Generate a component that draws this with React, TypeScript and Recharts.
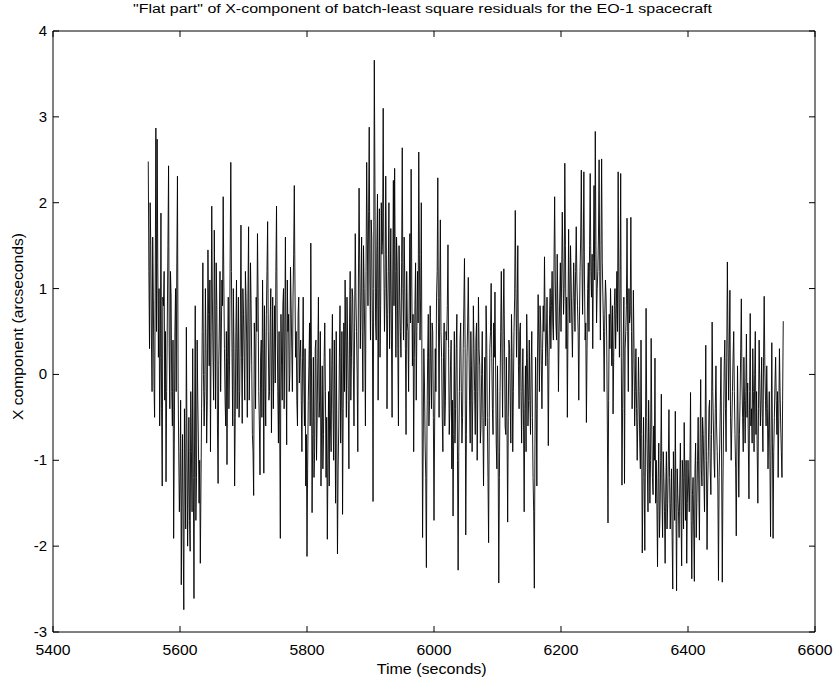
import React from 'react';
import { LineChart, Line, XAxis, YAxis, Label } from 'recharts';

const TITLE = '"Flat part" of X-component of batch-least square residuals for the EO-1 spacecraft';
const X_LABEL = 'Time (seconds)';
const Y_LABEL = 'X component (arcseconds)';

const X_TICKS = [5400, 5600, 5800, 6000, 6200, 6400, 6600];
const Y_TICKS = [-3, -2, -1, 0, 1, 2, 3, 4];

const START_TIME = 5550;

// residuals (arcseconds) at even seconds, 5550 s ... 6550 s
const residualsEven = [
  2.48, 0.3, 1.5, -0.2, 0.9, -0.5, 2.87, 2.74, 0.2, -0.6, 1.88, -1.3, 0.8, -0.3, -1.25, 0.6, 2.43, -0.4, 0.9, -0.6, -1.91, 0.5, -0.2, 2.31, -0.9,
  -1.2, -2.45, -0.7, -2.74, -1.1, 0.55, -2.0, -0.5, -2.06, -0.9, 0.3, -2.61, 0.8, -1.2, -0.3, -1.5, -2.2, -0.4, 1.3, -0.6, 1.0, -0.8, 1.45, 0.1, -0.9,
  1.96, 0.2, 1.68, -0.4, 0.8, -1.27, 0.6, -0.2, 1.1, 2.07, 0.3, -0.6, -1.05, 0.9, 0.1, 2.47, 0.2, 1.0, -1.3, 0.5, -0.4, 0.9, -0.2, 1.74, -0.57,
  0.7, -0.3, 0.9, -0.5, 1.72, 0.2, 0.8, -0.7, -1.41, 0.3, 0.9, 1.64, -0.2, -1.17, 0.4, 1.1, -1.15, 0.0, 0.7, 1.78, -0.3, 0.6, -0.68, 0.9, 0.2,
  -0.1, 1.96, -0.2, 0.5, -1.91, 0.1, 0.8, -0.4, 1.6, -0.82, 0.5, -0.2, 1.25, 0.3, 0.9, 2.2, 0.2, -0.3, 0.7, -0.1, 0.4, -0.9, 0.9, -0.6, -1.3,
  -2.12, -0.3, 0.6, 1.53, -1.61, 0.2, -0.9, 0.4, -0.5, 0.9, -0.3, -1.3, 0.1, -0.7, 0.6, -1.2, -1.92, -0.2, 0.3, -0.9, 0.7, -1.0, -0.3, 0.5, -2.09,
  -0.6, 0.8, -0.3, -1.63, 0.6, 1.1, -0.5, 0.4, -1.1, 1.2, 0.2, 0.9, -0.6, 1.64, 0.5, -0.9, 2.17, 0.3, 1.6, -0.2, 1.0, -0.6, 2.47, 0.8, 2.88,
  0.4, 1.6, -1.48, 3.66, 0.6, 1.5, -0.3, 1.93, 0.8, 1.4, 3.1, 0.5, 2.31, -0.4, 1.2, 0.3, 1.7, -0.5, 2.26, 2.4, 0.2, 1.3, -0.6, 0.9, 0.2,
  2.64, 0.4, 1.1, -0.7, 0.6, -0.2, 1.64, 2.39, 0.1, -0.9, 0.8, -0.3, 1.2, 2.59, 0.4, 2.0, -1.9, 0.3, -0.8, -2.25, 0.2, -0.6, 0.8, -0.4, 0.5,
  -1.7, 0.3, 0.9, 2.29, -0.5, 1.8, 0.2, -0.9, 0.6, -0.3, 0.4, 1.51, -0.7, 0.1, -1.1, -1.65, 0.5, -0.4, 0.7, -2.28, -0.2, 0.6, -0.8, 0.3, 1.35,
  -1.87, 0.2, 1.13, -0.3, 0.5, -0.9, 0.8, -0.2, 0.4, -1.0, 0.9, 0.1, -0.6, 0.5, -1.3, 0.2, 0.8, -0.5, -1.96, 0.3, 1.06, -0.4, 0.6, 0.96, -0.8,
  0.1, -2.43, -0.2, 1.2, -0.5, 1.23, -0.6, 0.2, -1.72, 0.4, -0.3, 0.7, -0.9, 0.5, 1.91, 0.2, 1.5, -0.4, 0.6, -0.8, 0.3, -1.6, 0.1, 0.7, -0.6,
  0.4, -0.7, 0.5, -1.2, -2.49, 0.2, -1.3, 0.93, -0.2, 0.6, -0.4, 0.8, 1.37, 0.1, 0.9, -0.83, 0.7, 0.3, 1.2, 0.4, 2.07, 0.6, 1.4, -0.2, 0.9,
  0.5, 1.89, 0.7, 2.46, 0.3, -0.5, 1.69, 0.6, 1.1, 0.2, 1.3, 0.5, 1.72, 0.8, -0.3, 1.2, 2.38, 0.7, 2.36, 0.4, -0.56, 1.0, 0.5, 2.34, 0.9,
  0.3, 2.2, 2.83, 0.6, 1.2, 2.5, 0.4, 2.51, 0.9, -0.2, 1.1, 0.4, -1.73, 0.7, 1.0, 0.1, -0.46, 0.8, 0.3, 1.2, 2.36, 0.2, 2.34, -1.29, 0.4,
  -1.27, 0.5, 1.82, -0.2, 0.6, 1.83, -0.4, 0.98, -0.6, 0.3, -1.0, 0.2, -0.8, 0.4, -2.08, -0.5, -2.05, 0.77, -1.1, -0.3, -1.5, 0.42, -1.2, -0.6, 0.19,
  -1.0, -2.24, -0.8, -1.6, -0.23, -1.9, -1.2, -2.2, -0.9, -1.5, -0.41, -1.8, -1.1, -2.5, -1.3, -0.43, -2.52, -1.4, -1.9, -0.8, -2.23, -1.2, -0.56, -1.7, -2.2,
  -1.0, -1.6, -0.21, -2.38, -1.2, -2.41, -0.8, -1.5, -0.5, -1.93, -0.06, -1.3, -0.7, -1.6, 0.34, -2.04, -0.9, -0.3, -1.4, 0.61, -0.6, -1.2, 0.1, -0.9, -2.4,
  -0.8, 0.2, -2.42, -0.6, 0.4, -0.9, 1.31, -0.3, 0.98, -1.0, -0.2, 0.5, -0.7, -1.88, 0.1, -1.43, -0.3, 0.88, -0.5, 0.2, -0.8, 0.47, -0.1, -1.45, 0.71,
  -0.4, 0.3, -0.9, 0.5, -0.2, -1.5, 0.4, -0.6, 0.2, -0.9, 0.91, -0.3, 0.1, -1.1, -0.2, -1.89, 0.37, -1.91, -0.5, 0.2, -0.7, -1.2, 0.3, -0.6, -1.2, 0.62,
];

// residuals (arcseconds) at odd seconds, 5551 s ... 6549 s
const residualsOdd = [
  1.2, 2.0, 0.4, 1.6, -0.1, 1.1, 0.5, 1.3, 1.0, 0.2, -0.4, 0.9, 1.2, 0.5, -0.2, 1.5, 0.3, 1.2, -0.2, 0.4, -0.8, 1.0, 1.3, -0.1, -1.6,
  -0.3, -1.4, -1.9, -0.4, -1.8, -0.8, -1.3, -1.7, -0.2, -1.6, -1.2, -0.6, -1.7, 0.4, -0.8, -1.0, -1.3, 0.5, 0.0, -0.2, 0.3, -0.3, 0.7, 1.1, 0.5,
  0.9, -0.3, 0.8, 1.3, -0.6, 0.1, 1.2, 0.4, 0.8, 1.1, -0.3, 0.5, 0.2, -0.4, 1.4, 1.2, -0.6, 0.3, -0.5, 1.1, 0.3, -0.5, 0.6, 0.2, 1.0,
  0.2, 1.2, 0.4, 0.9, -0.3, 1.3, 0.1, -0.9, 0.6, -0.4, 0.5, 0.9, -0.6, 0.2, -0.5, 0.3, 0.8, -0.6, 1.2, 0.5, -0.2, 1.0, 0.1, -0.4, 0.8,
  1.2, 0.6, -0.8, -0.6, 0.7, -0.3, 1.0, 0.4, 0.2, 1.1, 0.7, 0.0, 0.8, -0.2, 1.4, 1.1, 0.5, -0.6, 0.9, 0.2, -0.3, 0.2, -0.1, 0.3, -0.7,
  -1.1, 0.1, -0.6, 0.2, -0.7, -1.2, 0.3, -1.0, 0.2, -0.5, 0.5, -0.6, -1.1, 0.2, -0.2, -0.5, -1.0, -1.3, -0.6, 0.1, -0.4, 0.4, -1.5, -0.8, -1.1,
  0.2, -0.8, 0.5, -0.4, -0.2, 0.4, 0.9, -0.3, 0.6, -0.3, 1.0, 0.1, 0.6, 0.9, 0.0, 1.1, 1.3, 0.9, 0.5, 1.5, 0.4, 1.2, 1.6, 1.9, 1.1,
  1.8, 0.6, 1.0, 2.2, 0.4, 2.1, 1.0, 0.2, 2.0, 1.6, 1.3, 1.0, 1.4, 0.7, 2.0, 0.9, 0.4, 1.1, 0.8, 1.2, 1.6, 0.3, 1.5, 0.5, 1.3,
  1.0, 1.6, 0.3, 1.2, 0.5, 0.9, 0.6, 1.1, 0.7, 0.2, 1.3, 0.5, 0.6, 1.4, 0.9, 0.1, -0.8, -0.1, -1.2, -0.6, 0.7, -0.3, 0.1, 0.6, -0.5,
  -0.6, -0.2, 1.2, 0.6, 0.9, 0.5, -0.5, 0.2, -0.6, 0.5, 0.8, 0.3, -0.4, 0.4, -0.3, -0.7, -0.8, 0.3, -1.0, -0.9, 0.4, -0.2, -0.5, 0.8, 0.3,
  -0.7, 0.6, 0.4, -0.8, 0.1, -0.3, 0.3, -0.7, 0.6, -0.2, 0.3, -0.8, 0.0, -0.5, -0.4, -0.6, 0.4, -1.2, -0.5, 0.5, 0.2, -0.7, 0.2, 0.1, -1.1,
  -0.9, -1.2, 0.5, 0.3, 0.6, 0.4, -0.7, -0.6, -0.5, 0.3, -0.8, 0.2, -0.2, 0.9, 1.0, 0.8, 0.1, 0.5, -0.2, -0.1, -0.6, -0.4, -0.9, 0.2, -0.3,
  -0.3, 0.1, -0.5, -1.6, -0.8, -0.4, 0.2, 0.4, 0.8, 0.1, 0.3, 0.5, 0.6, 0.4, 0.2, 0.1, 1.0, 0.8, 0.6, 1.3, 1.1, 0.4, 0.8, 0.5, 1.3,
  1.1, 1.3, 1.0, 1.5, 0.9, 0.6, 0.9, 1.5, 0.6, 0.8, 0.9, 1.2, 1.1, 0.5, 0.6, 1.6, 1.3, 1.4, 1.1, 0.6, 0.3, 1.3, 1.5, 1.2, 1.4,
  1.3, 1.1, 1.5, 1.0, 1.6, 1.2, 1.5, 1.3, 0.5, 0.7, 0.9, -0.6, -0.3, 0.3, 0.6, 0.8, 0.2, 1.0, 0.7, 0.5, 1.1, 1.0, 0.2, -0.4, 0.9,
  0.3, 0.8, 0.5, 1.0, 0.7, 0.5, 0.1, 0.3, -0.2, -0.4, -0.5, -0.2, -1.1, -0.7, -1.3, -1.2, -0.8, -0.5, -1.6, -0.8, -1.0, -0.6, -1.4, -1.0, -1.5,
  -1.5, -1.2, -1.9, -1.0, -1.4, -0.9, -1.6, -1.3, -1.8, -1.0, -1.2, -1.5, -1.9, -0.9, -1.7, -1.5, -1.1, -1.6, -1.3, -1.6, -1.0, -1.8, -1.2, -1.0, -1.5,
  -1.3, -1.1, -1.7, -1.4, -1.8, -1.1, -1.9, -1.0, -1.3, -0.8, -1.1, -0.5, -1.2, -0.6, -1.0, -1.3, -0.4, -1.1, -0.7, -0.2, -1.0, -0.4, -0.6, -1.3, -1.2,
  -0.3, -1.1, -1.3, 0.1, -0.4, 0.2, 0.4, 0.3, -0.5, -0.6, 0.2, -0.2, -1.1, -0.8, -0.6, -0.7, 0.3, -0.1, -0.9, -0.3, -0.2, -0.5, -0.8, -0.2, -0.6,
  -0.8, -0.2, 0.0, -0.7, -0.9, -0.4, -0.1, -0.3, -0.5, 0.2, 0.1, -0.6, -0.4, -0.6, -1.0, -0.6, -0.8, -0.9, -0.1, -0.3, -0.2, -0.5, -0.2, -0.9, -0.3,
];

const data: { t: number; v: number }[] = [];
residualsEven.forEach((v, i) => {
  data.push({ t: START_TIME + 2 * i, v });
  if (i < residualsOdd.length) data.push({ t: START_TIME + 2 * i + 1, v: residualsOdd[i] });
});

const FONT = 'Helvetica, "Liberation Sans", Arial, sans-serif';
const TICK_LEN = 6;

const BottomTick = (props: any) => {
  const { x, y, payload } = props;
  return (
    <g>
      <line x1={x} y1={y} x2={x} y2={y - TICK_LEN} stroke="#000" strokeWidth={1} />
      <text
        x={x}
        y={y + 23}
        textAnchor="middle"
        fontFamily={FONT}
        fontSize={14}
        textLength={35}
        lengthAdjust="spacingAndGlyphs"
        fill="#000"
      >
        {payload.value}
      </text>
    </g>
  );
};

const TopTick = (props: any) => {
  const { x, y } = props;
  return <line x1={x} y1={y} x2={x} y2={y + TICK_LEN} stroke="#000" strokeWidth={1} />;
};

const LeftTick = (props: any) => {
  const { x, y, payload } = props;
  return (
    <g>
      <line x1={x} y1={y} x2={x + TICK_LEN} y2={y} stroke="#000" strokeWidth={1} />
      <text x={x - 6} y={y + 5} textAnchor="end" fontFamily={FONT} fontSize={15} fill="#000">
        {payload.value}
      </text>
    </g>
  );
};

const RightTick = (props: any) => {
  const { x, y } = props;
  return <line x1={x} y1={y} x2={x - TICK_LEN} y2={y} stroke="#000" strokeWidth={1} />;
};

export default function App() {
  return (
    <div style={{ position: 'absolute', left: 0, top: 0, width: 838, height: 682, background: '#fff' }}>
      <svg width={838} height={20} style={{ position: 'absolute', left: 0, top: 0 }}>
        <text
          x={422.5}
          y={12.5}
          textAnchor="middle"
          fontFamily={FONT}
          fontSize={12.5}
          textLength={579}
          lengthAdjust="spacingAndGlyphs"
          fill="#000"
        >
          {TITLE}
        </text>
      </svg>
      <LineChart width={838} height={682} data={data} margin={{ top: 0, right: 0, bottom: 0, left: 0 }}>
        <XAxis
          xAxisId="b"
          dataKey="t"
          type="number"
          domain={[5400, 6600]}
          ticks={X_TICKS}
          orientation="bottom"
          height={50}
          tickSize={0}
          tickMargin={0}
          tickLine={false}
          tick={<BottomTick />}
          axisLine={{ stroke: '#000', strokeWidth: 1 }}
          allowDataOverflow
        >
          <Label
            content={() => (
              <text
                x={431.7}
                y={673.5}
                textAnchor="middle"
                fontFamily={FONT}
                fontSize={14}
                textLength={110}
                lengthAdjust="spacingAndGlyphs"
                fill="#000"
              >
                {X_LABEL}
              </text>
            )}
          />
        </XAxis>
        <XAxis
          xAxisId="top"
          dataKey="t"
          type="number"
          domain={[5400, 6600]}
          ticks={X_TICKS}
          orientation="top"
          height={31}
          tickSize={0}
          tickMargin={0}
          tickLine={false}
          tick={<TopTick />}
          axisLine={{ stroke: '#000', strokeWidth: 1 }}
          allowDataOverflow
        />
        <YAxis
          yAxisId="l"
          type="number"
          domain={[-3, 4]}
          ticks={Y_TICKS}
          width={53}
          tickSize={0}
          tickMargin={0}
          tickLine={false}
          tick={<LeftTick />}
          axisLine={{ stroke: '#000', strokeWidth: 1 }}
          allowDataOverflow
        >
          <Label
            content={() => (
              <text
                x={23}
                y={326.5}
                transform="rotate(-90 23 326.5)"
                textAnchor="middle"
                fontFamily={FONT}
                fontSize={14.5}
                textLength={187}
                lengthAdjust="spacingAndGlyphs"
                fill="#000"
              >
                {Y_LABEL}
              </text>
            )}
          />
        </YAxis>
        <YAxis
          yAxisId="r"
          orientation="right"
          type="number"
          domain={[-3, 4]}
          ticks={Y_TICKS}
          width={23}
          tickSize={0}
          tickMargin={0}
          tickLine={false}
          tick={<RightTick />}
          axisLine={{ stroke: '#000', strokeWidth: 1 }}
          allowDataOverflow
        />
        <Line
          xAxisId="b"
          yAxisId="l"
          type="linear"
          dataKey="v"
          stroke="#000"
          strokeWidth={0.9}
          dot={false}
          activeDot={false}
          isAnimationActive={false}
        />
      </LineChart>
    </div>
  );
}
